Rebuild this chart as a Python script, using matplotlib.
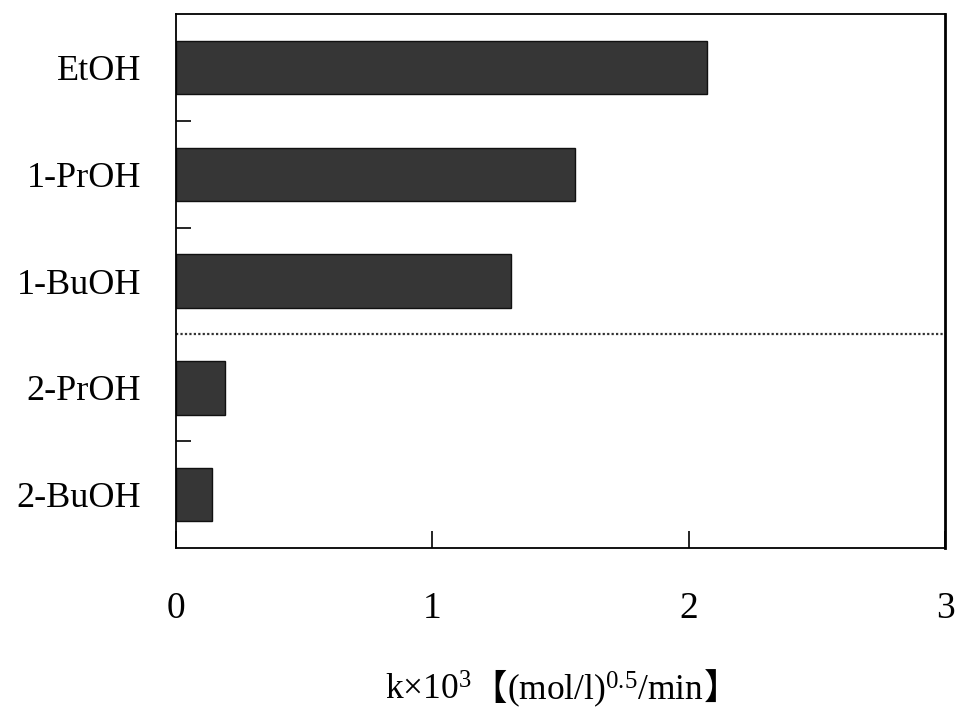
import matplotlib
matplotlib.use("Agg")
import matplotlib.pyplot as plt
import numpy as np

# Reaction rate constants for each alcohol
alcohols = ["EtOH", "1-PrOH", "1-BuOH", "2-PrOH", "2-BuOH"]
rate_k = [2.07, 1.555, 1.305, 0.19, 0.14]
x_ticks = [0, 1, 2, 3]

plt.rcParams["font.family"] = ["Liberation Serif", "Noto Sans CJK JP"]
plt.rcParams["mathtext.fontset"] = "custom"
plt.rcParams["mathtext.rm"] = "Liberation Serif"
plt.rcParams["mathtext.it"] = "Liberation Serif:italic"

W, H, DPI = 957, 710, 100
fig = plt.figure(figsize=(W / DPI, H / DPI), dpi=DPI)
ax = fig.add_axes([176 / W, 1 - 548 / H, (945 - 176) / W, (548 - 14) / H])

pos = np.arange(len(alcohols)) + 0.5
ax.barh(pos, rate_k, height=0.5, color="#363636", edgecolor="#111111",
        linewidth=1.0, zorder=2)

# dotted separator between primary and secondary alcohols
ax.axhline(3, color="#333333", linewidth=1.6, linestyle=(0, (1, 1)), zorder=1)

ax.set_xlim(0, 3)
ax.set_ylim(len(alcohols), 0)

ax.set_yticks(pos)
ax.set_yticklabels(alcohols, fontsize=26)
ax.set_yticks([1, 2, 4], minor=True)
ax.tick_params(axis="y", which="major", length=0, pad=25)
ax.tick_params(axis="y", which="minor", direction="in", length=11, width=1.2)

ax.set_xticks(x_ticks)
ax.set_xticklabels([str(t) for t in x_ticks], fontsize=27)
ax.tick_params(axis="x", direction="in", length=12, width=1.2, pad=31)

for s in ax.spines.values():
    s.set_linewidth(1.3)
ax.spines["right"].set_linewidth(2.0)

# x-axis label assembled from pieces so the CJK brackets and superscripts share a baseline
pieces = [
    ("k×10$^{3}$", ["Liberation Serif"]),
    ("【", ["Noto Sans CJK JP"]),
    ("(mol/l)$^{0.5}$/min", ["Liberation Serif"]),
    ("】", ["Noto Sans CJK JP"]),
]
texts = [fig.text(0, 0, s, family=fam, fontsize=25.5, va="baseline", ha="left")
         for s, fam in pieces]
fig.canvas.draw()
renderer = fig.canvas.get_renderer()
widths = [t.get_window_extent(renderer).width for t in texts]
total = sum(widths)
x0 = 562 - total / 2
base_y = H - 700
for t, w in zip(texts, widths):
    t.set_position((x0 / W, base_y / H))
    x0 += w

fig.savefig("out.png", dpi=DPI)
